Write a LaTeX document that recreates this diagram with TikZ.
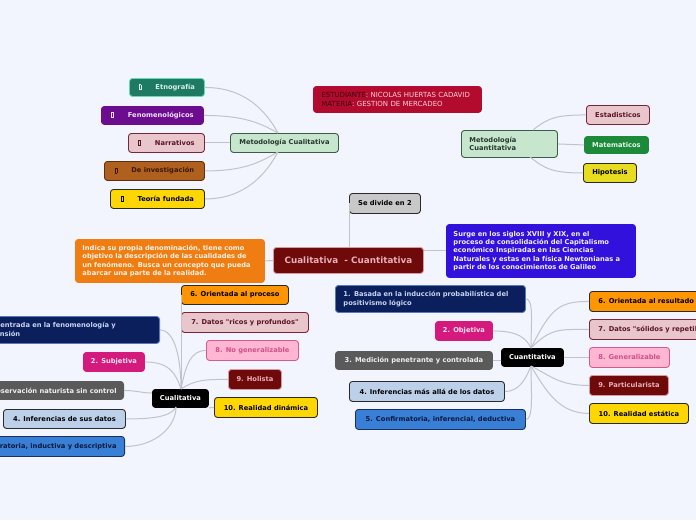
\documentclass[tikz,border=0pt]{standalone}
\usepackage{fontspec}
\newfontfamily\dv{DejaVu Sans}
\newcommand\fs{\dv\bfseries\fontsize{6.7}{8.3}\selectfont}
\newcommand\fsr{\dv\fontsize{7}{8.4}\selectfont}
\newcommand\fsc{\dv\bfseries\fontsize{8.8}{10}\selectfont}
\newcommand\gbx{{\fboxsep=0pt\fboxrule=0.5pt\fbox{\rule{0pt}{4.6pt}\hspace{1.6pt}}}}
\definecolor{bgc}{HTML}{F2F5FE}
\definecolor{linec}{HTML}{C2C2CA}
\definecolor{teal}{HTML}{1E7A62}
\definecolor{tealb}{HTML}{6AD8B6}
\definecolor{tealt}{HTML}{D6F0E6}
\definecolor{purp}{HTML}{6C0D8F}
\definecolor{purpt}{HTML}{F2E2F6}
\definecolor{pinkf}{HTML}{E8C6CC}
\definecolor{pinkb}{HTML}{7A2535}
\definecolor{pinkt}{HTML}{5A1525}
\definecolor{brownf}{HTML}{B0601E}
\definecolor{brownb}{HTML}{5A3010}
\definecolor{brownt}{HTML}{3A1A05}
\definecolor{yel}{HTML}{FFD700}
\definecolor{yel2}{HTML}{E8DC20}
\definecolor{dk}{HTML}{2A2A2A}
\definecolor{greenf}{HTML}{C6E6CE}
\definecolor{greenb}{HTML}{3E5A48}
\definecolor{greent}{HTML}{26382C}
\definecolor{crim}{HTML}{B30B2E}
\definecolor{crimd}{HTML}{3A0010}
\definecolor{criml}{HTML}{F5D0D8}
\definecolor{matf}{HTML}{1C8A3A}
\definecolor{matt}{HTML}{E8F8EC}
\definecolor{grayf}{HTML}{C8C8C8}
\definecolor{maro}{HTML}{6E0A0A}
\definecolor{marob}{HTML}{D89AA2}
\definecolor{marot}{HTML}{E8B0B8}
\definecolor{oranf}{HTML}{F07D12}
\definecolor{orant}{HTML}{FFF2E6}
\definecolor{bluef}{HTML}{3311DD}
\definecolor{bluet}{HTML}{F0F0FF}
\definecolor{or6}{HTML}{FF9500}
\definecolor{lpf}{HTML}{FFB6D2}
\definecolor{lpb}{HTML}{D85A8A}
\definecolor{lpt}{HTML}{D0508A}
\definecolor{navy}{HTML}{0A1F5C}
\definecolor{navyb}{HTML}{5A78B8}
\definecolor{navyt}{HTML}{C8D4F0}
\definecolor{mag}{HTML}{D41A7C}
\definecolor{magt}{HTML}{FFE4F2}
\definecolor{gry}{HTML}{5A5A5A}
\definecolor{gryt}{HTML}{F0F0F0}
\definecolor{lbl}{HTML}{BCD0EA}
\definecolor{mbl}{HTML}{3A7FD6}
\definecolor{mblb}{HTML}{1A3060}
\definecolor{mblt}{HTML}{0A1A40}
\begin{document}
\begin{tikzpicture}[x=1pt,y=-1pt,
  box/.style={rounded corners=3pt, line width=0.9pt, inner sep=0pt, font=\fs, anchor=north west, align=center},
  conn/.style={draw=linec, line width=1pt}]
\useasboundingbox (0,0) rectangle (696,520);
\fill[bgc] (0,0) rectangle (696,520);

% ---- Metodologia Cualitativa branch
\node[box, fill=teal, draw=tealb, text=tealt, minimum width=75pt, minimum height=18pt] (etno) at (129,78) {\gbx\hspace{14pt}Etnografía};
\node[box, fill=purp, draw=purp, text=purpt, minimum width=102pt, minimum height=18pt] (feno) at (101,106) {\gbx\hspace{14pt}Fenomenológicos};
\node[box, fill=pinkf, draw=pinkb, text=pinkt, minimum width=76pt, minimum height=19pt] (narr) at (128,133) {\gbx\hspace{14pt}Narrativos};
\node[box, fill=brownf, draw=brownb, text=brownt, minimum width=100pt, minimum height=19pt] (inve) at (104,161) {\gbx\hspace{14pt}De investigación};
\node[box, fill=yel, draw=dk, text=black, minimum width=94pt, minimum height=19pt] (teor) at (110,189) {\gbx\hspace{14pt}Teoría fundada};
\node[box, fill=greenf, draw=greenb, text=greent, minimum width=108pt, minimum height=19pt] (mcual) at (230,133) {Metodología Cualitativa};
\coordinate (mcT) at (278,133);
\coordinate (mcB) at (278,152);
\draw[conn] (etno.east) .. controls +(40,0) and +(-12,-22) .. (mcT);
\draw[conn] (feno.east) .. controls +(40,0) and +(-18,-10) .. (mcT);
\draw[conn] (narr.east) -- (mcual.west);
\draw[conn] (inve.east) .. controls +(40,0) and +(-18,10) .. (mcB);
\draw[conn] (teor.east) .. controls +(40,0) and +(-12,22) .. (mcB);

% ---- student
\node[box, fill=crim, draw=crim, minimum height=26pt, inner xsep=8pt, text width=152pt, font=\fsr, align=left] (stud) at (313,86)
  {\textcolor{crimd}{ESTUDIANTE}\textcolor{criml}{: NICOLAS HUERTAS CADAVID}\\
   \textcolor{crimd}{MATERIA}\textcolor{criml}{: GESTION DE MERCADEO}};

% ---- Metodologia Cuantitativa branch
\node[box, fill=greenf, draw=greenb, text=greent, minimum height=27pt, inner xsep=8pt, text width=80pt, align=left] (mcuan) at (461,130) {Metodología\\Cuantitativa};
\node[box, fill=pinkf, draw=pinkb, text=pinkt, minimum width=63pt, minimum height=19pt] (esta) at (586,105) {Estadisticos};
\node[box, fill=matf, draw=matf, text=matt, minimum width=64pt, minimum height=17pt] (mate) at (584,136) {Matematicos};
\node[box, fill=yel2, draw=dk, text=black, minimum width=53pt, minimum height=19pt] (hipo) at (583,163) {Hipotesis};
\coordinate (mqT) at (533,130);
\coordinate (mqB) at (530,157);
\draw[conn] (mqT) .. controls +(15,-12) and +(-30,0) .. (esta.west);
\draw[conn] (mcuan.east) -- (mate.west);
\draw[conn] (mqB) .. controls +(15,12) and +(-30,0) .. (hipo.west);

% ---- central
\node[box, fill=grayf, draw=dk, text=black, minimum width=71pt, minimum height=20pt] (sediv) at (349,193) {Se divide en 2};
\node[box, fill=maro, draw=marob, text=marot, minimum width=150pt, minimum height=26pt, font=\fsc] (central) at (273,247) {Cualitativa\ \ - Cuantitativa};
\node[box, fill=oranf, draw=oranf, text=orant, minimum height=43pt, inner xsep=7pt, text width=175pt, align=left] (orange) at (75,239)
  {Indica su propia denominación, tiene como\\objetivo la descripción de las cualidades de\\un fenómeno. Busca un concepto que pueda\\abarcar una parte de la realidad.};
\node[box, fill=bluef, draw=bluef, text=bluet, minimum height=53pt, inner xsep=7pt, text width=175pt, align=left] (blue) at (446,224)
  {Surge en los siglos XVIII y XIX, en el\\proceso de consolidación del Capitalismo\\económico Inspiradas en las Ciencias\\Naturales y estas en la física Newtonianas a\\partir de los conocimientos de Galileo};
\draw[conn] (sediv.west) -- (sediv.west |- central.north);
\draw[conn] (orange.east) -- (central.west);
\draw[conn] (blue.west) -- (blue.west -| central.east);

% ---- Cualitativa
\node[box, fill=black, draw=black, text=white, minimum width=56pt, minimum height=18pt] (cual) at (152,389) {Cualitativa};
\node[box, fill=or6, draw=dk, text=black, minimum width=107pt, minimum height=19pt] (q6) at (181,285) {6. Orientada al proceso};
\node[box, fill=pinkf, draw=pinkb, text=pinkt, minimum width=127pt, minimum height=20pt] (q7) at (181,312) {7. Datos "ricos y profundos"};
\node[box, fill=lpf, draw=lpb, text=lpt, minimum width=92pt, minimum height=20pt] (q8) at (206,340) {8. No generalizable};
\node[box, fill=maro, draw=marob, text=marot, minimum width=53pt, minimum height=20pt] (q9) at (228,369) {9. Holista};
\node[box, fill=yel, draw=dk, text=black, minimum width=103pt, minimum height=20pt] (q10) at (214,397) {10. Realidad dinámica};
\node[box, anchor=north east, fill=navy, draw=navyb, text=navyt, minimum height=27pt, inner xsep=8pt, text width=180pt, align=left] (q1) at (160,316) {1. Concentrada en la fenomenología y\\comprensión};
\node[box, fill=mag, draw=mag, text=magt, minimum width=61pt, minimum height=19pt] (q2) at (83,352) {2. Subjetiva};
\node[box, anchor=north east, fill=gry, draw=gry, text=gryt, minimum height=18pt, inner xsep=7pt] (q3) at (124,381) {3. Observación naturista sin control};
\node[box, fill=lbl, draw=dk, text=black, minimum width=122pt, minimum height=19pt] (q4) at (3,409) {4. Inferencias de sus datos};
\node[box, anchor=north east, fill=mbl, draw=mblb, text=mblt, minimum height=20pt, inner xsep=8pt] (q5) at (125,436) {5. Exploratoria, inductiva y descriptiva};
\coordinate (cT) at (181,389);
\coordinate (cL) at (152,393);
\coordinate (cB) at (176,407);
\draw[conn] (q1.east) .. controls +(15,0) and +(0,-30) .. (cT);
\draw[conn] (q2.east) .. controls +(25,0) and +(-5,-15) .. (cT);
\draw[conn] (q3.east) .. controls +(12,0) and +(-10,0) .. (cL);
\draw[conn] (q4.east) .. controls +(25,0) and +(-5,10) .. (cB);
\draw[conn] (q5.east) .. controls +(30,0) and +(0,20) .. (cB);
\draw[conn] (q6.west) -- (cT);
\draw[conn] (q7.west) -- (cT);
\draw[conn] (cT) .. controls +(5,-25) and +(-15,0) .. (q8.west);
\draw[conn] (cT) .. controls +(15,-10) and +(-20,0) .. (q9.west);
\draw[conn] (cual.south east) -- (q10.west);

% ---- Cuantitativa
\node[box, fill=black, draw=black, text=white, minimum width=62pt, minimum height=18pt] (cuan) at (501,348) {Cuantitativa};
\node[box, fill=navy, draw=navyb, text=navyt, minimum height=27pt, inner xsep=8pt, text width=174pt, align=left] (n1) at (335,285) {1. Basada en la inducción probabilística del\\positivismo lógico};
\node[box, fill=mag, draw=mag, text=magt, minimum width=57pt, minimum height=19pt] (n2) at (435,321) {2. Objetiva};
\node[box, fill=gry, draw=gry, text=gryt, minimum width=157pt, minimum height=18pt] (n3) at (335,351) {3. Medición penetrante y controlada};
\node[box, fill=lbl, draw=dk, text=black, minimum width=155pt, minimum height=20pt] (n4) at (349,381) {4. Inferencias más allá de los datos};
\node[box, fill=mbl, draw=mblb, text=mblt, minimum width=170pt, minimum height=20pt] (n5) at (355,409) {5. Confirmatoria, inferencial, deductiva};
\node[box, fill=or6, draw=dk, text=black, minimum height=20pt, inner xsep=9pt] (r6) at (589,291) {6. Orientada al resultado};
\node[box, fill=pinkf, draw=pinkb, text=pinkt, minimum height=20pt, inner xsep=9pt] (r7) at (589,319) {7. Datos "sólidos y repetibles"};
\node[box, fill=lpf, draw=lpb, text=lpt, minimum width=80pt, minimum height=20pt] (r8) at (589,347) {8. Generalizable};
\node[box, fill=maro, draw=marob, text=marot, minimum width=79pt, minimum height=20pt] (r9) at (589,375) {9. Particularista};
\node[box, fill=yel, draw=dk, text=black, minimum width=99pt, minimum height=20pt] (r10) at (589,403) {10. Realidad estática};
\coordinate (uT) at (531,348);
\coordinate (uB) at (531,366);
\draw[conn] (n1.east) .. controls +(8,0) and +(0,-25) .. (uT);
\draw[conn] (n2.east) .. controls +(25,0) and +(-5,-10) .. (uT);
\draw[conn] (n3.east) -- (n3.east -| cuan.west);
\draw[conn] (n4.east) .. controls +(15,0) and +(-5,12) .. (uB);
\draw[conn] (n5.east) .. controls +(8,0) and +(0,25) .. (uB);
\draw[conn] (uT) .. controls +(20,-40) and +(-30,0) .. (r6.west);
\draw[conn] (uT) .. controls +(20,-20) and +(-30,0) .. (r7.west);
\draw[conn] (cuan.east) -- (r8.west);
\draw[conn] (uB) .. controls +(20,10) and +(-30,0) .. (r9.west);
\draw[conn] (uB) .. controls +(15,25) and +(-30,0) .. (r10.west);
\end{tikzpicture}
\end{document}
